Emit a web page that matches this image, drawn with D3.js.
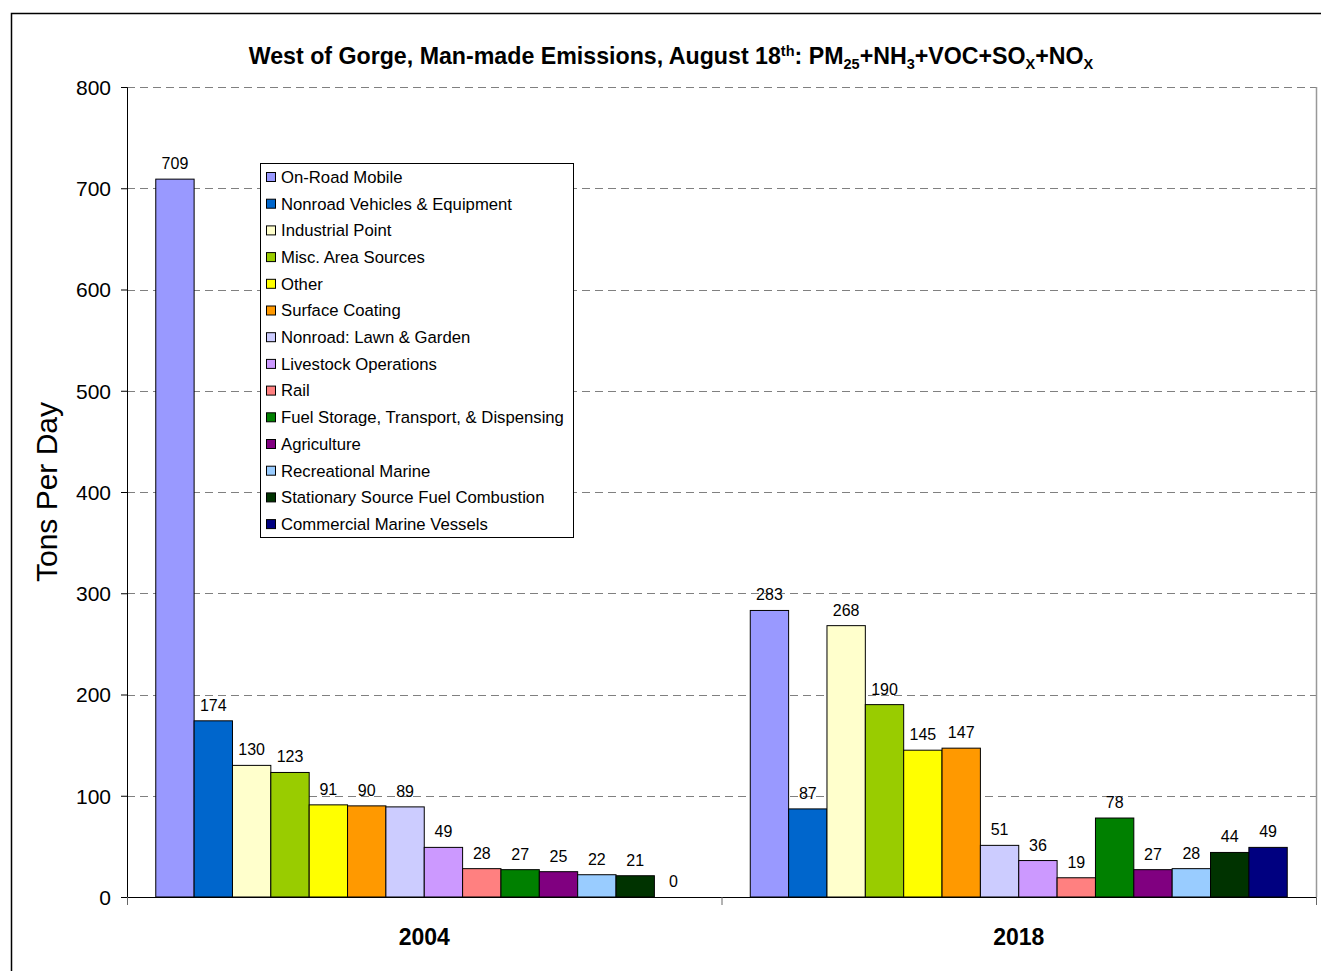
<!DOCTYPE html>
<html lang="en">
<head>
<meta charset="UTF-8">
<title>West of Gorge Emissions</title>
<script src="https://d3js.org/d3.v7.min.js"></script>
<style>
  body { margin: 0; background: #fff; }
  text { font-family: "Liberation Sans", Arial, sans-serif; fill: #000; }
  .grid line { stroke: #808080; stroke-dasharray: 8 5; }
</style>
</head>
<body>
<script>
// categories (years) and series
const years = ["2004", "2018"];
const sources = [
  "On-Road Mobile", "Nonroad Vehicles & Equipment", "Industrial Point",
  "Misc. Area Sources", "Other", "Surface Coating", "Nonroad: Lawn & Garden",
  "Livestock Operations", "Rail", "Fuel Storage, Transport, & Dispensing",
  "Agriculture", "Recreational Marine", "Stationary Source Fuel Combustion",
  "Commercial Marine Vessels"
];
const colors = ["#9999FF", "#0066CC", "#FFFFCC", "#99CC00", "#FFFF00", "#FF9900",
  "#CCCCFF", "#CC99FF", "#FF8080", "#008000", "#800080", "#99CCFF", "#003300", "#000080"];
const values2004 = [709, 174, 130, 123, 91, 90, 89, 49, 28, 27, 25, 22, 21, 0];
const values2018 = [283, 87, 268, 190, 145, 147, 51, 36, 19, 78, 27, 28, 44, 49];
const yTicks = [0, 100, 200, 300, 400, 500, 600, 700, 800];

const W = 1321, H = 971;
const plot = {left: 127, right: 1316, top: 87, bottom: 897};

const svg = d3.select("body").append("svg")
  .attr("width", W).attr("height", H);

// outer frame
svg.append("path")
  .attr("d", `M11.5,${H} L11.5,13.5 L${W},13.5`)
  .attr("fill", "none").attr("stroke", "#000").attr("stroke-width", 1.5);

const y = d3.scaleLinear().domain([0, 800]).range([plot.bottom, plot.top]);
const x0 = d3.scaleBand().domain(years).range([plot.left, plot.right]).padding(0);
const x1 = d3.scaleBand().domain(sources).range([0, x0.bandwidth()])
  .paddingInner(0).paddingOuter(0.75);
const color = d3.scaleOrdinal().domain(sources).range(colors);

// gridlines
svg.append("g").attr("class", "grid")
  .selectAll("line").data(yTicks.filter(d => d > 0)).enter().append("line")
  .attr("x1", plot.left).attr("x2", plot.right)
  .attr("y1", d => Math.round(y(d)) + 0.5).attr("y2", d => Math.round(y(d)) + 0.5);

// right border of plot
svg.append("line")
  .attr("x1", plot.right + 0.5).attr("x2", plot.right + 0.5)
  .attr("y1", plot.top).attr("y2", plot.bottom)
  .attr("stroke", "#999").attr("stroke-width", 1.5);

// y axis
const yAxis = svg.append("g")
  .attr("transform", `translate(${plot.left},0)`)
  .call(d3.axisLeft(y).tickValues(yTicks).tickSize(6).tickPadding(10));
yAxis.select(".domain").attr("stroke", "#000");
yAxis.selectAll(".tick line").attr("stroke", "#000");
yAxis.selectAll("text").style("font-size", "21px").attr("dy", "0.35em");

svg.append("text")
  .attr("transform", `translate(57,${(plot.top + plot.bottom) / 2}) rotate(-90)`)
  .attr("text-anchor", "middle")
  .style("font-size", "30px")
  .text("Tons Per Day");

// bars
const data = years.map((yr, i) => ({
  year: yr,
  vals: sources.map((s, j) => ({source: s, value: [values2004, values2018][i][j]}))
}));

const groups = svg.selectAll(".grp").data(data).enter().append("g")
  .attr("transform", d => `translate(${x0(d.year)},0)`);

groups.selectAll("rect").data(d => d.vals.filter(v => v.value > 0)).enter().append("rect")
  .attr("x", d => x1(d.source))
  .attr("y", d => y(d.value))
  .attr("width", x1.bandwidth())
  .attr("height", d => y(0) - y(d.value))
  .attr("fill", d => color(d.source))
  .attr("stroke", "#000").attr("stroke-width", 1);

groups.selectAll(".lbl").data(d => d.vals).enter().append("text")
  .attr("x", d => x1(d.source) + x1.bandwidth() / 2)
  .attr("y", d => y(d.value) - 10)
  .attr("text-anchor", "middle")
  .style("font-size", "16px")
  .text(d => d.value);

// x axis
svg.append("line")
  .attr("x1", plot.left).attr("x2", plot.right)
  .attr("y1", plot.bottom + 0.5).attr("y2", plot.bottom + 0.5)
  .attr("stroke", "#000").attr("stroke-width", 1.2);
const xTickPos = [plot.left, x0("2018"), plot.right];
svg.selectAll(".xt").data(xTickPos).enter().append("line")
  .attr("x1", d => d + 0.5).attr("x2", d => d + 0.5)
  .attr("y1", plot.bottom).attr("y2", plot.bottom + 8)
  .attr("stroke", "#666");
svg.selectAll(".xl").data(years).enter().append("text")
  .attr("x", d => x0(d) + x0.bandwidth() / 2)
  .attr("y", 945)
  .attr("text-anchor", "middle")
  .style("font-size", "23px").style("font-weight", "bold")
  .text(d => d);

// title
const title = svg.append("text")
  .attr("x", 671).attr("y", 64)
  .attr("text-anchor", "middle")
  .style("font-size", "23.2px").style("font-weight", "bold");
title.append("tspan").text("West of Gorge, Man-made Emissions, August 18");
title.append("tspan").attr("dy", -8).style("font-size", "14.5px").text("th");
title.append("tspan").attr("dy", 8).text(": PM");
title.append("tspan").attr("dy", 5).style("font-size", "14.5px").text("25");
title.append("tspan").attr("dy", -5).text("+NH");
title.append("tspan").attr("dy", 5).style("font-size", "14.5px").text("3");
title.append("tspan").attr("dy", -5).text("+VOC+SO");
title.append("tspan").attr("dy", 5).style("font-size", "14.5px").text("X");
title.append("tspan").attr("dy", -5).text("+NO");
title.append("tspan").attr("dy", 5).style("font-size", "14.5px").text("X");

// legend
const lg = {x: 260, y: 163, w: 313, h: 374, row: 26.7};
const legend = svg.append("g");
legend.append("rect")
  .attr("x", lg.x + 0.5).attr("y", lg.y + 0.5)
  .attr("width", lg.w).attr("height", lg.h)
  .attr("fill", "#fff").attr("stroke", "#000");
const items = legend.selectAll(".li").data(sources).enter().append("g")
  .attr("transform", (d, i) => `translate(${lg.x},${lg.y + 14 + i * lg.row})`);
items.append("rect")
  .attr("x", 6.5).attr("y", -4.5).attr("width", 9).attr("height", 9)
  .attr("fill", d => color(d)).attr("stroke", "#000");
items.append("text")
  .attr("x", 21).attr("y", 0).attr("dy", "0.35em")
  .style("font-size", "16.7px")
  .text(d => d);
</script>
</body>
</html>
